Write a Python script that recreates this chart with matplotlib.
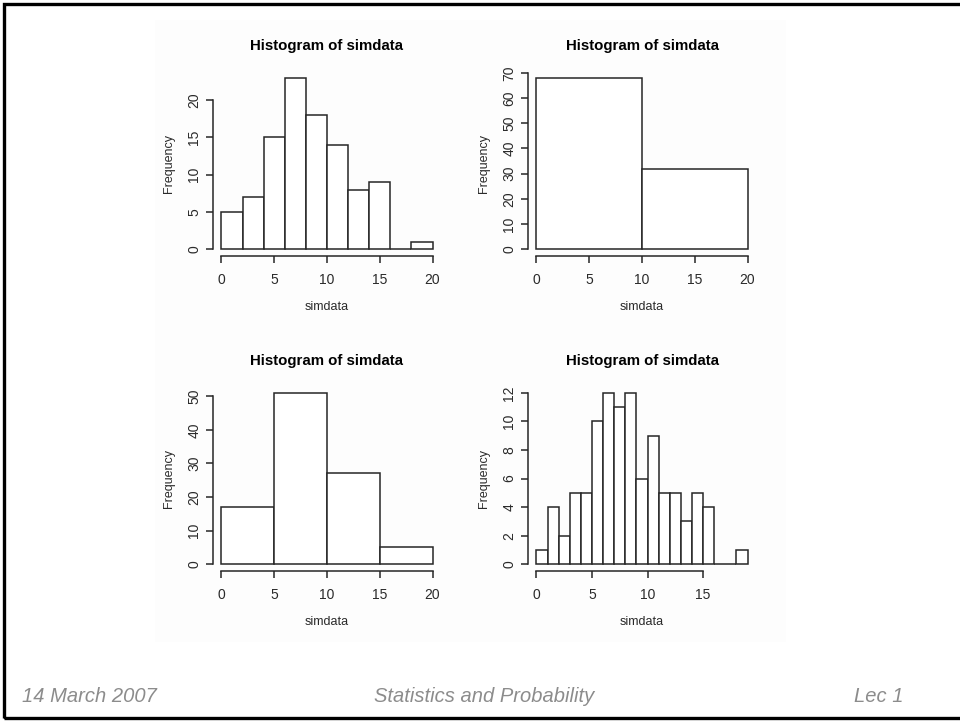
# Four R-style histograms of the same simulated data with different bin widths,
# laid out like a lecture slide with a footer.

import matplotlib.pyplot as plt
from matplotlib.patches import Rectangle

# --- Data ---
edges1 = [0, 2, 4, 6, 8, 10, 12, 14, 16, 18, 20]
counts1 = [5, 7, 15, 23, 18, 14, 8, 9, 0, 1]

edges2 = [0, 10, 20]
counts2 = [68, 32]

edges3 = [0, 5, 10, 15, 20]
counts3 = [17, 51, 27, 5]

edges4 = [0, 1, 2, 3, 4, 5, 6, 7, 8, 9, 10, 11, 12, 13, 14, 15, 16, 17, 18, 19]
counts4 = [1, 4, 2, 5, 5, 10, 12, 11, 12, 6, 9, 5, 5, 3, 5, 4, 0, 0, 1]

xticks1 = [0, 5, 10, 15, 20]
yticks1 = [0, 5, 10, 15, 20]
xticks2 = [0, 5, 10, 15, 20]
yticks2 = [0, 10, 20, 30, 40, 50, 60, 70]
xticks3 = [0, 5, 10, 15, 20]
yticks3 = [0, 10, 20, 30, 40, 50]
xticks4 = [0, 5, 10, 15]
yticks4 = [0, 2, 4, 6, 8, 10, 12]

footer_left = "14 March 2007"
footer_mid = "Statistics and Probability"
footer_right = "Lec 1"

W, H = 960, 721
plt.rcParams['font.family'] = ['Liberation Sans', 'DejaVu Sans']

fig = plt.figure(figsize=(W / 100, H / 100), dpi=100)
fig.patch.set_facecolor('white')


def px_axes(x0, y0, x1, y1):
    # pixel box (top-left origin) -> figure axes
    return fig.add_axes([x0 / W, 1 - y1 / H, (x1 - x0) / W, (y1 - y0) / H])


# faint grey panel behind the plots (pasted R graphics window)
fig.patches.append(Rectangle((155 / W, 1 - 642 / H), 631 / W, 622 / H,
                             transform=fig.transFigure, facecolor='#fdfdfd',
                             edgecolor='none', zorder=-5))

line_col = '#262626'
text_col = '#2a2a2a'


def r_hist(ax, edges, counts, xticks, yticks):
    widths = [edges[i + 1] - edges[i] for i in range(len(counts))]
    ax.bar(edges[:-1], counts, width=widths, align='edge',
           facecolor='white', edgecolor=line_col, linewidth=1.1)
    # R pads the ranges by 4 %
    xr = edges[-1] - edges[0]
    ymax = max(counts)
    ax.set_xlim(edges[0] - 0.04 * xr, edges[-1] + 0.04 * xr)
    ax.set_ylim(-0.04 * ymax, ymax * 1.04)
    ax.set_facecolor('none')
    for s in ['top', 'right']:
        ax.spines[s].set_visible(False)
    for s in ['left', 'bottom']:
        ax.spines[s].set_color(line_col)
        ax.spines[s].set_linewidth(1.1)
    ax.spines['bottom'].set_bounds(xticks[0], xticks[-1])
    ax.spines['left'].set_bounds(yticks[0], yticks[-1])
    ax.set_xticks(xticks)
    ax.set_yticks(yticks)
    ax.tick_params(direction='out', length=5, width=1.1, color=line_col,
                   labelsize=10, labelcolor=text_col)
    ax.tick_params(axis='x', pad=7.5)
    ax.tick_params(axis='y', pad=3.5)
    plt.setp(ax.get_yticklabels(), rotation=90, va='center')
    ax.set_title("Histogram of simdata", fontsize=10.8, fontweight='bold', pad=15)
    ax.set_xlabel("simdata", fontsize=9, color=text_col, labelpad=10)
    ax.set_ylabel("Frequency", fontsize=9, color=text_col, labelpad=8.5)


ax1 = px_axes(213, 71, 441, 256)
r_hist(ax1, edges1, counts1, xticks1, yticks1)
ax2 = px_axes(528, 71, 756, 256)
r_hist(ax2, edges2, counts2, xticks2, yticks2)
ax3 = px_axes(213, 386, 441, 571)
r_hist(ax3, edges3, counts3, xticks3, yticks3)
ax4 = px_axes(528, 386, 756, 571)
r_hist(ax4, edges4, counts4, xticks4, yticks4)

# --- footer ---
foot = dict(fontsize=14.5, style='italic', color='#8c8c8c', va='center')
fig.text(22 / W, 1 - 697 / H, footer_left, ha='left', **foot)
fig.text(484 / W, 1 - 697 / H, footer_mid, ha='center', **foot)
fig.text(903 / W, 1 - 697 / H, footer_right, ha='right', **foot)

# slide frame (right edge falls outside the picture)
fig.patches.append(Rectangle((3.5 / W, 3 / H), 965 / W, 714.5 / H,
                             transform=fig.transFigure, facecolor='none',
                             edgecolor='black', linewidth=2.4, zorder=5))

fig.savefig("out.png", dpi=100)
